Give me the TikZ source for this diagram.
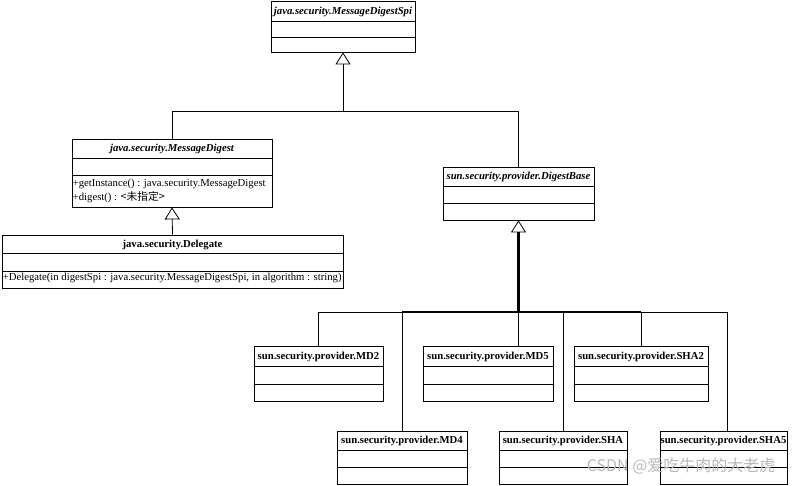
\documentclass[tikz,border=0pt]{standalone}
\usepackage{fontspec}
\setmainfont{Liberation Serif}
\newfontfamily\cjkfont{Noto Sans CJK SC}
\usetikzlibrary{arrows.meta,fit}

\newcommand{\umlsize}{\fontsize{10.7}{12}\selectfont}
\newcommand{\umltitlesize}{\fontsize{10.7}{12}\selectfont}

\tikzset{
  classbox/.style={draw, line width=0.8pt, inner sep=0pt},
  concrete/.style={font=\umltitlesize\bfseries, inner sep=0pt},
  abstract/.style={font=\umltitlesize\bfseries\itshape, inner sep=0pt},
  member/.style={font=\umlsize, anchor=west, inner sep=1pt},
  inherit/.style={-{Triangle[open, length=12pt, width=15pt, line width=0.8pt]}, line width=0.8pt},
  bus/.style={line width=0.8pt},
  mainbus/.style={line width=2.4pt},
}

% name, x1, y1, x2, y2, divider 1, divider 2, title style, title
\newcommand{\umlclass}[9]{%
  \coordinate (#1 nw) at (#2,#3);
  \coordinate (#1 se) at (#4,#5);
  \node[classbox, fit=(#1 nw)(#1 se)] (#1) {};
  \draw[line width=0.8pt] (#2,#6) -- (#4,#6) (#2,#7) -- (#4,#7);
  \node[#8] (#1 title) at ({(#2+#4)/2},{(#3+#6)/2+0.5}) {#9};
}

\begin{document}
\begin{tikzpicture}[x=1pt, y=-1pt]
  \useasboundingbox (0,0) rectangle (794,485);

  % top of the hierarchy
  \umlclass{spi}{271}{1}{415}{52}{21}{37}{abstract}{java.security.MessageDigestSpi}
  \umlclass{md}{72}{139}{272}{207}{158}{175}{abstract}{java.security.MessageDigest}
  \umlclass{dbase}{443}{167}{594}{220}{186}{203}{abstract}{sun.security.provider.DigestBase}
  \umlclass{delegate}{2}{235}{343}{288}{253}{271}{concrete}{java.security.Delegate}

  \node[member] (md get) at (md.west |- 0,184) {+getInstance() : java.security.MessageDigest};
  \node[member] (md digest) at (md.west |- 0,197) {+digest() : {\cjkfont <未指定>}};
  \node[member] (delegate ctor) at (delegate.west |- 0,278) {+Delegate(in digestSpi : java.security.MessageDigestSpi, in algorithm : string)};

  % providers
  \umlclass{md2}{254}{346}{383}{401}{366}{384}{concrete}{sun.security.provider.MD2}
  \umlclass{md5}{423}{346}{553}{401}{366}{384}{concrete}{sun.security.provider.MD5}
  \umlclass{sha2}{574}{346}{708}{401}{366}{384}{concrete}{sun.security.provider.SHA2}
  \umlclass{md4}{337}{431}{467}{484}{450}{467}{concrete}{sun.security.provider.MD4}
  \umlclass{sha}{499}{431}{627}{484}{450}{467}{concrete}{sun.security.provider.SHA}
  \umlclass{sha5}{660}{431}{787}{484}{450}{467}{concrete}{sun.security.provider.SHA5}

  % generalizations
  \coordinate (top bus) at (0,111);
  \coordinate (low bus) at (0,312);
  \coordinate (jn) at (dbase.south |- low bus);

  \draw[inherit] (md.north) |- (spi.south |- top bus) -- (spi.south);
  \draw[bus] (dbase.north) |- (spi.south |- top bus);
  \draw[inherit] (delegate.north) -- (md.south);

  \foreach \c in {md2, md4, sha, sha2}
    \draw[bus] (\c.north) -- (\c.north |- low bus);
  \draw[bus] (sha5.north -| 727,0) -- (727,312);
  \draw[bus] (md5.north -| jn) -- (jn);
  \draw[bus] (md2.north |- low bus) -- (727,312);
  \draw[mainbus] (md4.north |- low bus) -- (sha2.north |- low bus);
  \draw[inherit, mainbus] (jn) -- (dbase.south);

  \node[font=\cjkfont\fontsize{16}{16}\selectfont, text=gray!55, anchor=east] (mark) at (779,466) {CSDN @爱吃牛肉的大老虎};
\end{tikzpicture}
\end{document}
